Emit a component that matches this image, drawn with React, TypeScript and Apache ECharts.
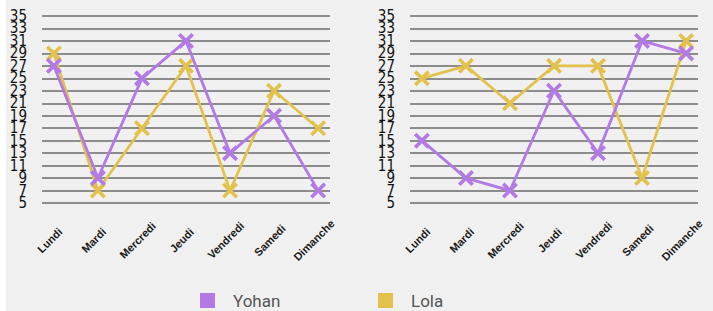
import React, { useEffect, useRef } from "react";
import * as echarts from "echarts";

const days = ["Lundi", "Mardi", "Mercredi", "Jeudi", "Vendredi", "Samedi", "Dimanche"];
const yTicks = ["5", "7", "9", "11", "13", "15", "17", "19", "21", "23", "25", "27", "29", "31", "33", "35"];
const yohanLeft = [27, 9, 25, 31, 13, 19, 7];
const lolaLeft = [29, 7, 17, 27, 7, 23, 17];
const yohanRight = [15, 9, 7, 23, 13, 31, 29];
const lolaRight = [25, 27, 21, 27, 27, 9, 31];

const PURPLE = "#b37ae6";
const YELLOW = "#e2c24c";
const X_SYMBOL =
  "path://M0,1.6 L1.6,0 L5,3.4 L8.4,0 L10,1.6 L6.6,5 L10,8.4 L8.4,10 L5,6.6 L1.6,10 L0,8.4 L3.4,5 Z";

export default function App() {
  const ref = useRef<HTMLDivElement>(null);
  useEffect(() => {
    if (!ref.current) return;
    const chart = echarts.init(ref.current, undefined, { renderer: "svg" });
    const xAxis = (gi: number) => ({
      type: "value",
      gridIndex: gi,
      min: -0.27,
      max: 6.27,
      axisLine: { show: false },
      axisTick: { show: false },
      splitLine: { show: false },
      axisLabel: {
        customValues: days.map((_, i) => i),
        formatter: (v: number) => days[Math.round(v)] ?? "",
        rotate: 45,
        align: "center",
        verticalAlign: "middle",
        margin: 33,
        padding: [0, 12, 6, 0],
        color: "#1a1a1a",
        fontSize: 11,
        fontWeight: "bold",
        fontFamily: "'Liberation Sans', Arial, sans-serif",
        hideOverlap: false,
      },
    });
    const yValueAxis = (gi: number) => ({
      type: "value",
      gridIndex: gi,
      min: 5,
      max: 35,
      interval: 2,
      axisLine: { show: false },
      axisTick: { show: false },
      axisLabel: { show: false },
      splitLine: { lineStyle: { color: "#8c8c8c", width: 2 } },
    });
    const yLabelAxis = (gi: number) => ({
      type: "category",
      gridIndex: gi,
      data: yTicks,
      boundaryGap: false,
      position: "left",
      axisLine: { show: false },
      axisTick: { show: false },
      splitLine: { show: false },
      axisLabel: {
        interval: 0,
        color: "#111",
        fontSize: 15,
        lineHeight: 10,
        margin: 15,
        hideOverlap: false,
        fontFamily: "'Liberation Sans Narrow', 'DejaVu Sans Condensed', sans-serif",
      },
    });
    const mk = (name: string, color: string, data: number[], idx: number) => ({
      name,
      type: "line",
      xAxisIndex: idx,
      yAxisIndex: idx,
      data: data.map((v, i) => [i, v]),
      symbol: X_SYMBOL,
      symbolSize: 16,
      lineStyle: { color, width: 2.8 },
      itemStyle: { color },
      z: name === "Yohan" ? 3 : 2,
    });
    const legendBase = {
      top: 287,
      itemWidth: 15,
      itemHeight: 15,
      icon: "rect",
      textStyle: {
        color: "#555",
        fontSize: 17,
        fontFamily: "Roboto, 'Noto Sans', sans-serif",
        padding: [0, 0, 0, 13],
      },
    };
    chart.setOption({
      animation: false,
      backgroundColor: "#f0f0f0",
      grid: [
        { left: 36, top: 16, width: 288, height: 187 },
        { left: 404, top: 16, width: 288, height: 187 },
      ],
      xAxis: [xAxis(0), xAxis(1)],
      yAxis: [yValueAxis(0), yValueAxis(1), yLabelAxis(0), yLabelAxis(1)],
      legend: [
        { ...legendBase, left: 189, data: [{ name: "Yohan", itemStyle: { color: PURPLE } }] },
        { ...legendBase, left: 367, data: [{ name: "Lola", itemStyle: { color: YELLOW } }] },
      ],
      series: [
        mk("Yohan", PURPLE, yohanLeft, 0),
        mk("Lola", YELLOW, lolaLeft, 0),
        mk("Yohan", PURPLE, yohanRight, 1),
        mk("Lola", YELLOW, lolaRight, 1),
      ],
    });
    return () => chart.dispose();
  }, []);
  return (
    <div style={{ position: "fixed", left: 0, top: 0, width: 713, height: 311, background: "#fff" }}>
      <div ref={ref} style={{ position: "absolute", left: 6, top: 0, width: 707, height: 311 }} />
    </div>
  );
}
